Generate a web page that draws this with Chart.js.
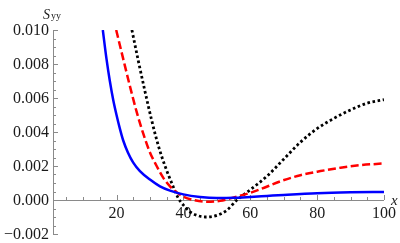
<!DOCTYPE html>
<html lang="en">

<head>
	<meta charset="UTF-8" />
	<title>S_yy vs x</title>
	<script src="https://cdn.jsdelivr.net/npm/chart.js@4.4.1/dist/chart.umd.min.js"></script>
	<style>
		html, body { margin: 0; padding: 0; background: #fff; }
		.container { width: 400px; height: 243px; }
	</style>
</head>

<body>
	<div class="container">
		<canvas id="myChart" width="400" height="243"></canvas>
	</div>

	<script>
		// values
		const blueX = [15.9, 17, 18, 19, 20, 21, 22, 23.4, 25, 27, 30, 33, 36, 40, 45, 50, 55, 60, 65, 70, 80, 90, 100];
		const blueY = [0.0100, 0.0083, 0.0070, 0.0059, 0.0050, 0.0042, 0.0035, 0.0028, 0.0022, 0.0017, 0.0012, 0.0008, 0.00055, 0.00033, 0.00018, 0.00012, 0.00013, 0.00018, 0.00024, 0.0003, 0.0004, 0.00045, 0.00047];

		const redX = [19.9, 22, 24, 26, 28, 30, 32, 34, 36, 38, 40, 43, 47, 51, 56, 60, 63, 69, 75, 81, 87, 93, 100];
		const redY = [0.0100, 0.0083, 0.0067, 0.0052, 0.0039, 0.0028, 0.0020, 0.0013, 0.0008, 0.00045, 0.0002, 0.0, -0.0001, -0.00005, 0.0002, 0.00042, 0.00063, 0.0011, 0.00146, 0.0017, 0.0019, 0.00205, 0.00215];

		const blackX = [24.6, 26.5, 28.5, 30.5, 32.5, 34.5, 36.5, 38.5, 40, 42, 44, 46.5, 50, 53, 56, 58, 60, 65, 70, 75, 80, 85, 90, 95, 100];
		const blackY = [0.0100, 0.0082, 0.0064, 0.0047, 0.0032, 0.0020, 0.0010, 0.0001, -0.0003, -0.0007, -0.0009, -0.001, -0.0009, -0.0006, 0.0, 0.0003, 0.0006, 0.0014, 0.0024, 0.0034, 0.0042, 0.0048, 0.0053, 0.0057, 0.0059];

		const xTicks = [20, 40, 60, 80, 100];
		const xMinor = [5, 10, 15, 25, 30, 35, 45, 50, 55, 65, 70, 75, 85, 90, 95];
		const yTicks = [-0.002, 0.000, 0.002, 0.004, 0.006, 0.008, 0.010];
		const yMinor = [-0.0015, -0.001, -0.0005, 0.0005, 0.001, 0.0015, 0.0025, 0.003, 0.0035, 0.0045, 0.005, 0.0055, 0.0065, 0.007, 0.0075, 0.0085, 0.009, 0.0095];

		const serif = "'Liberation Serif', 'Times New Roman', serif";
		const axisGray = '#8a8a8a';
		const textColor = '#1a1a1a';

		function points(xs, ys) {
			return xs.map((x, i) => ({ x: x, y: ys[i] }));
		}

		function yLabel(v) {
			return v.toFixed(3).replace('-', '\u2212');
		}

		// Mathematica-style axes: crossing at y = 0, ticks pointing inward
		const axesPlugin = {
			id: 'axes',
			beforeDatasetsDraw(chart) {
				const ctx = chart.ctx;
				const xs = chart.scales.x;
				const ys = chart.scales.y;
				const area = chart.chartArea;
				const y0 = Math.round(ys.getPixelForValue(0));
				const x0 = area.left;
				ctx.save();
				ctx.strokeStyle = axisGray;
				ctx.lineWidth = 1;
				ctx.beginPath();
				ctx.moveTo(x0 + 0.5, area.top);
				ctx.lineTo(x0 + 0.5, area.bottom);
				ctx.moveTo(x0, y0 + 0.5);
				ctx.lineTo(area.right, y0 + 0.5);
				xTicks.forEach(v => {
					const p = Math.round(xs.getPixelForValue(v)) + 0.5;
					ctx.moveTo(p, y0);
					ctx.lineTo(p, y0 - 5);
				});
				xMinor.forEach(v => {
					const p = Math.round(xs.getPixelForValue(v)) + 0.5;
					ctx.moveTo(p, y0);
					ctx.lineTo(p, y0 - 3);
				});
				yTicks.forEach(v => {
					const p = Math.round(ys.getPixelForValue(v)) + 0.5;
					ctx.moveTo(x0, p);
					ctx.lineTo(x0 + 5, p);
				});
				yMinor.forEach(v => {
					const p = Math.round(ys.getPixelForValue(v)) + 0.5;
					ctx.moveTo(x0, p);
					ctx.lineTo(x0 + 3, p);
				});
				ctx.stroke();

				// tick labels
				ctx.fillStyle = textColor;
				ctx.font = '16px ' + serif;
				ctx.textBaseline = 'middle';
				ctx.textAlign = 'right';
				yTicks.forEach(v => {
					ctx.fillText(yLabel(v), x0 - 4, ys.getPixelForValue(v) + 1);
				});
				ctx.textAlign = 'center';
				xTicks.forEach(v => {
					ctx.fillText(String(v), xs.getPixelForValue(v), y0 + 14);
				});
				ctx.restore();
			},
			afterDraw(chart) {
				const ctx = chart.ctx;
				const area = chart.chartArea;
				const y0 = chart.scales.y.getPixelForValue(0);
				ctx.save();
				ctx.fillStyle = textColor;
				ctx.textBaseline = 'alphabetic';
				ctx.textAlign = 'left';
				ctx.font = 'italic 14px ' + serif;
				ctx.fillText('S', area.left - 10, 18.5);
				ctx.font = '10px ' + serif;
				ctx.fillText('yy', area.left - 2, 19);
				ctx.font = 'italic 15px ' + serif;
				ctx.fillText('x', area.right + 7, y0 + 4.5);
				ctx.restore();
			}
		};

		const ctx = document.getElementById('myChart').getContext('2d');
		const myChart = new Chart(ctx, {
			type: 'line',
			data: {
				datasets: [{
						label: 'blue',
						data: points(blueX, blueY),
						borderColor: 'rgb(0, 0, 255)',
						borderWidth: 2.5,
						pointRadius: 0,
						cubicInterpolationMode: 'monotone'
					},
					{
						label: 'red',
						data: points(redX, redY),
						borderColor: 'rgb(255, 0, 0)',
						borderWidth: 2.5,
						borderDash: [8, 3.5],
						pointRadius: 0,
						cubicInterpolationMode: 'monotone'
					},
					{
						label: 'black',
						data: points(blackX, blackY),
						borderColor: 'rgb(0, 0, 0)',
						borderWidth: 2.8,
						borderDash: [2.6, 2.6],
						pointRadius: 0,
						cubicInterpolationMode: 'monotone'
					}
				]
			},
			options: {
				responsive: false,
				animation: false,
				devicePixelRatio: 1,
				layout: {
					padding: { top: 30, right: 16, bottom: 9, left: 0 }
				},
				plugins: {
					legend: { display: false },
					tooltip: { enabled: false }
				},
				scales: {
					x: {
						type: 'linear',
						min: 1,
						max: 100,
						position: { y: 0 },
						grid: { display: false, drawTicks: false },
						border: { display: false },
						afterBuildTicks: s => { s.ticks = xTicks.map(v => ({ value: v })); },
						ticks: { display: false }
					},
					y: {
						type: 'linear',
						min: -0.002,
						max: 0.010,
						grid: { display: false, drawTicks: false },
						border: { display: false },
						afterBuildTicks: s => { s.ticks = yTicks.map(v => ({ value: v })); },
						afterFit: s => { s.width = 53; },
						ticks: { display: false }
					}
				}
			},
			plugins: [axesPlugin]
		});
	</script>
</body>

</html>
